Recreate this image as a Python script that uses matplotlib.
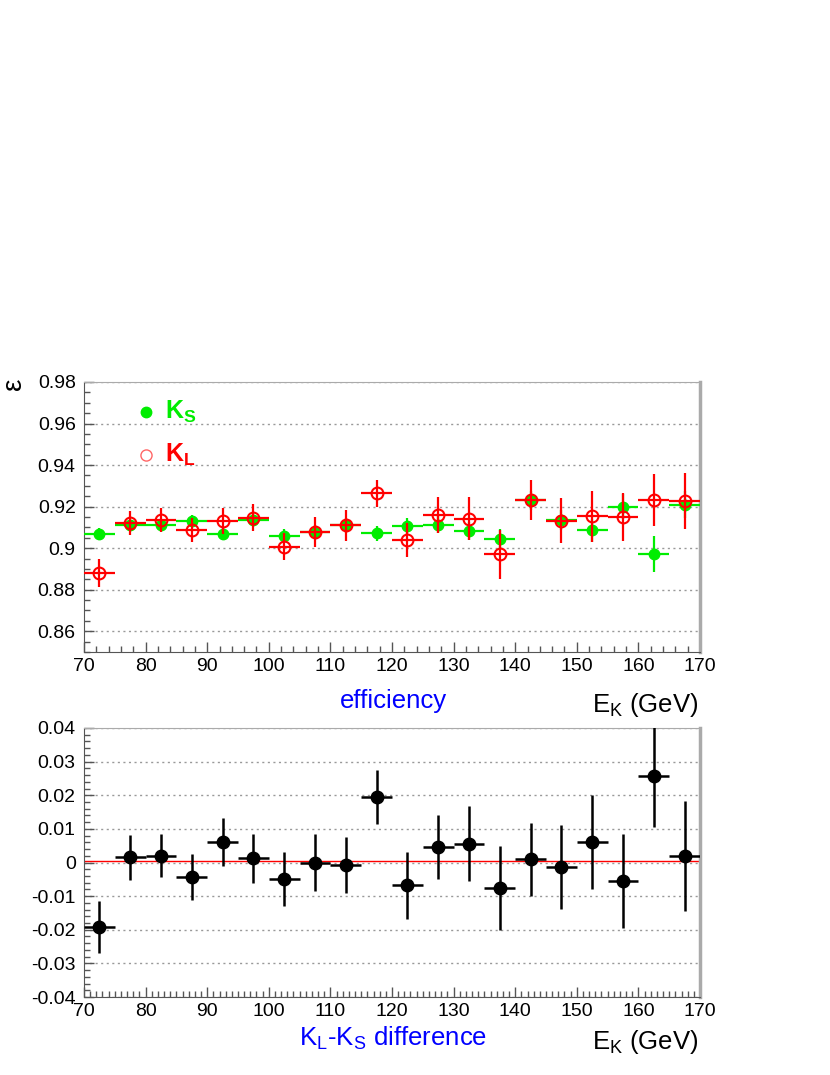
import numpy as np
import matplotlib
matplotlib.use("Agg")
import matplotlib.pyplot as plt
from matplotlib.ticker import MultipleLocator

plt.rcParams['font.family'] = ['Liberation Sans', 'DejaVu Sans']
plt.rcParams['mathtext.fontset'] = 'custom'
plt.rcParams['mathtext.rm'] = 'Liberation Sans'
plt.rcParams['mathtext.bf'] = 'Liberation Sans:bold'

# ---- data ----
energy = [72.5, 77.5, 82.5, 87.5, 92.5, 97.5, 102.5, 107.5, 112.5, 117.5,
          122.5, 127.5, 132.5, 137.5, 142.5, 147.5, 152.5, 157.5, 162.5, 167.5]
bin_halfwidth = 2.5

eff_ks = [0.9070, 0.9112, 0.9112, 0.9132, 0.9068, 0.9137, 0.9058, 0.9078, 0.9110, 0.9071,
          0.9107, 0.9113, 0.9083, 0.9044, 0.9231, 0.9136, 0.9087, 0.9200, 0.8972, 0.9208]
err_ks = [0.0025, 0.0025, 0.0025, 0.0027, 0.0030, 0.0030, 0.0032, 0.0035, 0.0035, 0.0035,
          0.0038, 0.0040, 0.0045, 0.0050, 0.0045, 0.0050, 0.0055, 0.0060, 0.0085, 0.0065]

eff_kl = [0.8880, 0.9121, 0.9134, 0.9086, 0.9131, 0.9147, 0.9007, 0.9078, 0.9110, 0.9264,
          0.9039, 0.9158, 0.9142, 0.8970, 0.9232, 0.9132, 0.9153, 0.9150, 0.9232, 0.9226]
err_kl = [0.0067, 0.0056, 0.0058, 0.0058, 0.0064, 0.0064, 0.0066, 0.0073, 0.0074, 0.0066,
          0.0080, 0.0086, 0.0103, 0.0117, 0.0095, 0.0108, 0.0124, 0.0116, 0.0124, 0.0135]

diff = [-0.0191, 0.0015, 0.0020, -0.0043, 0.0061, 0.0012, -0.0050, 0.0000, -0.0007, 0.0194,
        -0.0068, 0.0045, 0.0056, -0.0076, 0.0009, -0.0013, 0.0062, -0.0054, 0.0257, 0.0019]
err_diff = [0.0077, 0.0068, 0.0064, 0.0068, 0.0070, 0.0072, 0.0080, 0.0084, 0.0084, 0.0080,
            0.0099, 0.0095, 0.0111, 0.0125, 0.0108, 0.0125, 0.0140, 0.0140, 0.0152, 0.0164]
mean_diff = 0.0005

W, H = 830, 1075
fig = plt.figure(figsize=(W / 100, H / 100), dpi=100)

def fx(px):
    return px / W

def fy(py):
    return 1 - py / H

ax1 = fig.add_axes([fx(84), fy(652), (700 - 84) / W, (652 - 382) / H])
ax2 = fig.add_axes([fx(84), fy(997), (700 - 84) / W, (997 - 728) / H])

GREEN = (0, 0.93, 0)
RED = (1, 0, 0)

def style(ax, ymaj, ymin, xmin_step):
    ax.set_xlim(70, 170)
    ax.xaxis.set_major_locator(MultipleLocator(10))
    ax.xaxis.set_minor_locator(MultipleLocator(xmin_step))
    ax.yaxis.set_major_locator(MultipleLocator(ymaj))
    ax.yaxis.set_minor_locator(MultipleLocator(ymin))
    ax.tick_params(axis='both', which='both', direction='in', top=False, right=False,
                   color='#555555', labelsize=14)
    ax.tick_params(axis='both', which='major', length=7, width=1)
    ax.tick_params(axis='both', which='minor', length=4, width=1)
    ax.tick_params(axis='y', pad=6)
    ax.tick_params(axis='x', pad=4)
    ax.grid(axis='y', which='major', linestyle=(0, (1.5, 2.5)), color='#999999', linewidth=1)
    ax.grid(axis='x', visible=False)
    ax.set_axisbelow(True)
    ax.spines['left'].set_color('#555555')
    ax.spines['bottom'].set_color('#555555')
    ax.spines['top'].set_color('#aaaaaa')
    ax.spines['right'].set_color('#aaaaaa')
    ax.spines['right'].set_linewidth(2.5)

# ---- top panel ----
style(ax1, 0.02, 0.005, 2)
ax1.set_ylim(0.85, 0.98)
ax1.yaxis.set_major_formatter(plt.FuncFormatter(
    lambda v, p: '0.9' if abs(v - 0.9) < 1e-9 else '%.2f' % v))
ax1.errorbar(energy, eff_ks, xerr=bin_halfwidth, yerr=err_ks, fmt='o', color=GREEN,
             ms=7.5, mfc=GREEN, mec=GREEN, elinewidth=1.6, capsize=0, zorder=3)
ax1.errorbar(energy, eff_kl, xerr=bin_halfwidth, yerr=err_kl, fmt='o', color=RED,
             ms=8.5, mfc='none', mec=RED, mew=1.5, elinewidth=1.6, capsize=0, zorder=4)

ax1.plot([0.1006], [0.889], 'o', transform=ax1.transAxes, color=GREEN, ms=7.5, clip_on=False)
ax1.plot([0.1006], [0.7296], 'o', transform=ax1.transAxes, mfc='white', mec=(1, 0.4, 0.4),
         mew=1, ms=8, clip_on=False)
ax1.text(0.131, 0.889, r'K$_{\mathbf{S}}$', transform=ax1.transAxes, color=GREEN,
         fontsize=18, fontweight='bold', va='center', ha='left')
ax1.text(0.131, 0.7296, r'K$_{\mathbf{L}}$', transform=ax1.transAxes, color=RED,
         fontsize=18, fontweight='bold', va='center', ha='left')

fig.text(fx(14), fy(384), 'ε', rotation=90, fontsize=20, ha='center', va='center')
fig.text(fx(393), fy(701), 'efficiency', color='blue', fontsize=18.5, ha='center', va='center')
fig.text(fx(698), fy(705), r'E$_{\mathregular{K}}$ (GeV)', fontsize=18.5, ha='right', va='center')

# ---- bottom panel ----
style(ax2, 0.01, 0.002, 1)
ax2.set_ylim(-0.04, 0.04)
ax2.yaxis.set_major_formatter(plt.FuncFormatter(
    lambda v, p: '0' if abs(v) < 1e-9 else '%.2f' % v))
ax2.axhline(mean_diff, color=RED, linewidth=1, zorder=2)
ax2.errorbar(energy, diff, xerr=bin_halfwidth, yerr=err_diff, fmt='o', color='black',
             ms=9, elinewidth=1.8, capsize=0, zorder=3)

fig.text(fx(393), fy(1038), r'K$_{\mathregular{L}}$-K$_{\mathregular{S}}$ difference',
         color='blue', fontsize=18.5, ha='center', va='center')
fig.text(fx(698), fy(1042), r'E$_{\mathregular{K}}$ (GeV)', fontsize=18.5, ha='right', va='center')

fig.savefig('out.png', dpi=100)
